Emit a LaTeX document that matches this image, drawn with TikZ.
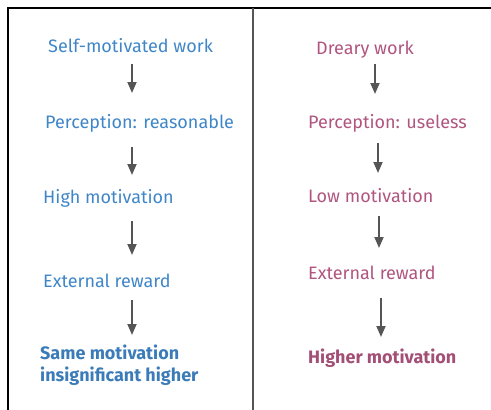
\documentclass[tikz,border=0pt]{standalone}
\usepackage{fontspec}
\setmainfont{Fira Sans}
\usetikzlibrary{arrows.meta}
\definecolor{calmblue}{HTML}{3F86C8}
\definecolor{drearypink}{HTML}{B0557F}
\definecolor{arrowgray}{HTML}{555555}
\tikzset{
  step left/.style={anchor=base west, inner sep=0pt, text=calmblue, font=\fontsize{18}{22}\selectfont},
  step right/.style={anchor=base west, inner sep=0pt, text=drearypink, font=\fontsize{18}{22}\selectfont},
  outcome/.style={font=\fontsize{18}{22}\selectfont\bfseries, align=left},
  flow/.style={arrowgray, line width=1.8pt, -{Triangle[width=9pt,length=11pt]}}
}
\begin{document}
\begin{tikzpicture}[x=1pt, y=-1pt]
  \useasboundingbox (0,0) rectangle (491,410);
  % frame
  \draw[black, line width=2pt] (8,410) -- (8,8) -- (491,8);
  \draw[arrowgray, line width=2.5pt] (253,8) -- (253,410);
  % left column
  \node[step left] (selfwork) at (48,52) {Self-motivated work};
  \node[step left] (reasonable) at (45,128) {Perception: reasonable};
  \node[step left] (highmot) at (43,203) {High motivation};
  \node[step left] (rewardL) at (43,287) {External reward};
  \node[step left, outcome, anchor=north west, text=calmblue!92!black] (samemot) at (40,345) {Same motivation\\insignificant higher};
  % right column
  \node[step right] (dreary) at (316,54) {Dreary work};
  \node[step right] (useless) at (308,128) {Perception: useless};
  \node[step right] (lowmot) at (308,202) {Low motivation};
  \node[step right] (rewardR) at (308,279) {External reward};
  \node[step right, outcome, text=drearypink!92!black] (highermot) at (308,363) {Higher motivation};
  % arrows
  \foreach \i/\x/\ya/\yb in {1/132/64/93, 2/132/147/175, 3/132/221/255, 4/132/300/335,
                              5/375/64/94, 6/378/143/173, 7/379/216/248, 8/381/298/337}{
    \coordinate (top\i) at (\x,\ya);
    \coordinate (tip\i) at (\x,\yb);
    \draw[flow] (top\i) -- (tip\i);
  }
\end{tikzpicture}
\end{document}
